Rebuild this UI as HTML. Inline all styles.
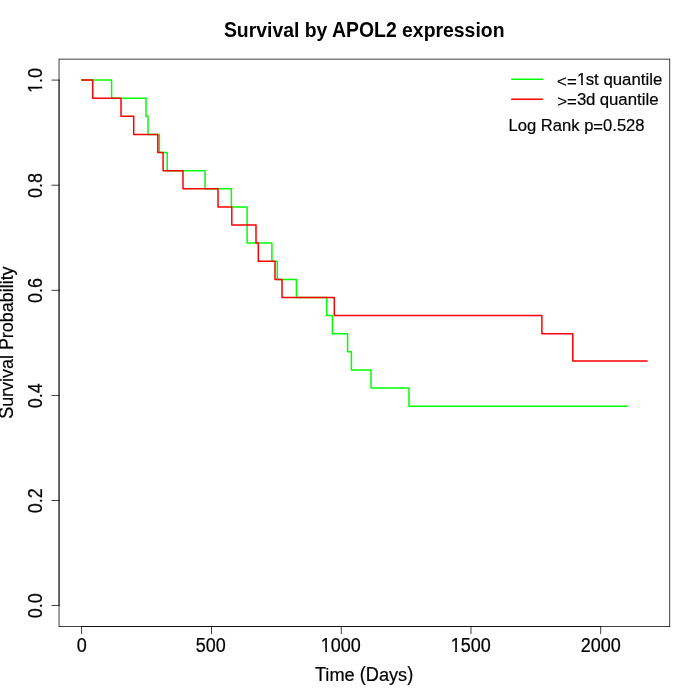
<!DOCTYPE html>
<html>
<head>
<meta charset="utf-8">
<title>Survival by APOL2 expression</title>
<style>
  html, body { margin: 0; padding: 0; background: #ffffff; }
  body { width: 700px; height: 700px; overflow: hidden; }
  svg { display: block; position: absolute; left: 0; top: 0; will-change: transform; }
  text { font-family: "Liberation Sans", sans-serif; fill: #000000; white-space: pre; }
  .r text { stroke: #000000; stroke-width: 0.2px; stroke-linejoin: round; }
</style>
</head>
<body>
<svg width="700" height="700" viewBox="0 0 700 700">

  <!-- survival curves -->
  <g fill="none" stroke-width="1.5" stroke-linejoin="round" stroke-linecap="round">
    <path stroke="#00ff00" d="M81.66,80.06 H111.6 V98.2 H146 V116.3 H148 V134.4 H159.4 V152.5 H167.2 V170.7 H205.1 V188.8 H231.4 V206.9 H247.1 V243.1 H271.9 V261.2 H277.3 V279.4 H296.4 V297.5 H326.8 V315.6 H332.4 V333.7 H347.6 V351.8 H351.4 V369.9 H371 V388.1 H409 V406.2 H627.4"/>
    <path stroke="#ff0000" d="M81.66,80.06 H92.7 V98.2 H121 V116.3 H133.7 V134.4 H157.8 V152.5 H163.1 V170.7 H183 V188.8 H218 V206.9 H231.8 V225 H256 V243.1 H258.3 V261.2 H275 V279.4 H282 V297.5 H334.3 V315.6 H541.9 V333.7 H572.8 V360.9 H647.14"/>
  </g>

  <!-- axes (0.75px lines drawn as exact filled rects) -->
  <g fill="#000000" stroke="none">
    <path fill-rule="evenodd" d="M58.665,58.665 H670.135 V626.935 H58.665 Z M59.415,59.415 H669.385 V626.185 H59.415 Z"/>
    <rect x="81.285" y="626.185" width="519.850" height="0.750"/>
    <rect x="81.285" y="626.185" width="0.750" height="7.950"/>
    <rect x="211.065" y="626.185" width="0.750" height="7.950"/>
    <rect x="340.835" y="626.185" width="0.750" height="7.950"/>
    <rect x="470.615" y="626.185" width="0.750" height="7.950"/>
    <rect x="600.385" y="626.185" width="0.750" height="7.950"/>
    <rect x="58.665" y="79.685" width="0.750" height="526.230"/>
    <rect x="51.465" y="605.165" width="7.950" height="0.750"/>
    <rect x="51.465" y="500.065" width="7.950" height="0.750"/>
    <rect x="51.465" y="394.975" width="7.950" height="0.750"/>
    <rect x="51.465" y="289.875" width="7.950" height="0.750"/>
    <rect x="51.465" y="184.785" width="7.950" height="0.750"/>
    <rect x="51.465" y="79.685" width="7.950" height="0.750"/>
  </g>

  <!-- legend lines -->
  <g fill="none" stroke-width="1.5" stroke-linecap="round">
    <path stroke="#00ff00" d="M511.7,79.25 H542.35"/>
    <path stroke="#ff0000" d="M511.7,99.35 H542.35"/>
  </g>

  <!-- text -->
  <g transform="translate(81.66,651.6)" font-size="18" class="r"><text transform="translate(-5.01,0) scale(1,1.16)">0</text></g>
  <g transform="translate(210.8,651.6)" font-size="18" class="r"><text transform="translate(-15.02,0) scale(1,1.16)">500</text></g>
  <g transform="translate(340.85,651.6)" font-size="18" class="r"><text transform="translate(-20.02,0) scale(1,1.16)">1000</text><rect x="-19.95" y="-2.41" width="4.36" height="3.46" fill="#ffffff"/><rect x="-13.81" y="-2.41" width="4.21" height="3.46" fill="#ffffff"/></g>
  <g transform="translate(470.7,651.6)" font-size="18" class="r"><text transform="translate(-20.02,0) scale(1,1.16)">1500</text><rect x="-19.95" y="-2.41" width="4.36" height="3.46" fill="#ffffff"/><rect x="-13.81" y="-2.41" width="4.21" height="3.46" fill="#ffffff"/></g>
  <g transform="translate(600.76,651.6)" font-size="18" class="r"><text transform="translate(-20.02,0) scale(1,1.16)">2000</text></g>
  <g transform="translate(41.6,605.84) rotate(-90)" font-size="18" class="r"><text transform="translate(-12.52,0) scale(1,1.16)">0</text><text transform="translate(-2.52,0) scale(1,1.01)">.</text><text transform="translate(2.48,0) scale(1,1.16)">0</text></g>
  <g transform="translate(41.6,500.74) rotate(-90)" font-size="18" class="r"><text transform="translate(-12.52,0) scale(1,1.16)">0</text><text transform="translate(-2.52,0) scale(1,1.01)">.</text><text transform="translate(2.48,0) scale(1,1.16)">2</text></g>
  <g transform="translate(41.6,395.65) rotate(-90)" font-size="18" class="r"><text transform="translate(-12.52,0) scale(1,1.16)">0</text><text transform="translate(-2.52,0) scale(1,1.01)">.</text><text transform="translate(2.48,0) scale(1,1.16)">4</text></g>
  <g transform="translate(41.6,290.55) rotate(-90)" font-size="18" class="r"><text transform="translate(-12.52,0) scale(1,1.16)">0</text><text transform="translate(-2.52,0) scale(1,1.01)">.</text><text transform="translate(2.48,0) scale(1,1.16)">6</text></g>
  <g transform="translate(41.6,185.46) rotate(-90)" font-size="18" class="r"><text transform="translate(-12.52,0) scale(1,1.16)">0</text><text transform="translate(-2.52,0) scale(1,1.01)">.</text><text transform="translate(2.48,0) scale(1,1.16)">8</text></g>
  <g transform="translate(41.6,80.36) rotate(-90)" font-size="18" class="r"><text transform="translate(-12.52,0) scale(1,1.16)">1</text><rect x="-12.44" y="-2.41" width="4.36" height="3.46" fill="#ffffff"/><rect x="-6.30" y="-2.41" width="4.21" height="3.46" fill="#ffffff"/><text transform="translate(-2.52,0) scale(1,1.01)">.</text><text transform="translate(2.48,0) scale(1,1.16)">0</text></g>
  <g transform="translate(364.2,36.5)" font-size="19.4" font-weight="bold"><text transform="translate(-140.28,0) scale(1,1.113)">S</text><text transform="translate(-127.36,0) scale(1,1.06)">urv</text><text transform="translate(-97.19,0) scale(1,1.06)">i</text><text transform="translate(-91.8,0) scale(1,1.06)">va</text><text transform="translate(-70.22,0) scale(1,1.06)">l</text><text transform="translate(-59.45,0) scale(1,1.06)">b</text><text transform="translate(-47.61,0) scale(1,1.06)">y</text><text transform="translate(-32.16,0) scale(1,1.113)">APOL2</text><text transform="translate(37.88,0) scale(1,1.06)">express</text><text transform="translate(111.19,0) scale(1,1.06)">i</text><text transform="translate(116.58,0) scale(1,1.06)">on</text></g>
  <g transform="translate(364.1,680.5)" font-size="18.2" class="r"><text transform="translate(-49.17,0) scale(1,1.16)">T</text><text transform="translate(-38.75,0) scale(1,1.05)">i</text><text transform="translate(-34.7,0) scale(1,1.01)">me</text><text transform="translate(-4.39,0) scale(1,1.08)">(</text><text transform="translate(1.67,0) scale(1,1.16)">D</text><text transform="translate(14.81,0) scale(1,1.01)">ays</text><text transform="translate(43.11,0) scale(1,1.08)">)</text></g>
  <g transform="translate(12.9,342.6) rotate(-90)" font-size="17.93" class="r"><text transform="translate(-76.2,0) scale(1,1.16)">S</text><text transform="translate(-64.25,0) scale(1,1.01)">urv</text><text transform="translate(-39.36,0) scale(1,1.05)">i</text><text transform="translate(-35.38,0) scale(1,1.01)">va</text><text transform="translate(-16.45,0) scale(1,1.1)">l</text><text transform="translate(-7.48,0) scale(1,1.16)">P</text><text transform="translate(4.47,0) scale(1,1.01)">ro</text><text transform="translate(20.41,0) scale(1,1.05)">b</text><text transform="translate(30.36,0) scale(1,1.01)">a</text><text transform="translate(40.33,0) scale(1,1.05)">bi</text><text transform="translate(54.28,0) scale(1,1.1)">l</text><text transform="translate(58.27,0) scale(1,1.05)">it</text><text transform="translate(67.22,0) scale(1,1.01)">y</text></g>
  <g transform="translate(556.8,85)" font-size="16.8" class="r"><text x="0.3" y="1.6">&lt;=</text><text transform="translate(20.29,0) scale(1,1.035)">1</text><rect x="20.27" y="-2.15" width="4.14" height="3.20" fill="#ffffff"/><rect x="26.10" y="-2.15" width="4.01" height="3.20" fill="#ffffff"/><text x="28.92" y="0">s</text><text x="37.31" y="0">t</text><text x="46.64" y="0">quan</text><text x="83.97" y="0">ti</text><text transform="translate(92.36,0) scale(1,1.03)">l</text><text x="96.09" y="0">e</text></g>
  <g transform="translate(556.8,105.1)" font-size="16.8" class="r"><text x="0.4" y="1.6">&gt;=</text><text transform="translate(20.19,0) scale(1,1.035)">3</text><text x="29.22" y="0">d</text><text x="42.92" y="0">quan</text><text x="80.25" y="0">ti</text><text transform="translate(88.64,0) scale(1,1.03)">l</text><text x="92.38" y="0">e</text></g>
  <g transform="translate(508.5,131)" font-size="16.6" class="r"><text transform="translate(0,0) scale(1,1.035)">L</text><text x="9.22" y="0">og</text><text transform="translate(32.28,0) scale(1,1.035)">R</text><text x="44.27" y="0">an</text><text x="62.73" y="0">k</text><text x="75.64" y="0">p</text><text x="84.86" y="0.58">=</text><text transform="translate(94.56,0) scale(1,1.035)">0</text><text x="103.78" y="0">.</text><text transform="translate(108.39,0) scale(1,1.035)">528</text></g>
</svg>
</body>
</html>
